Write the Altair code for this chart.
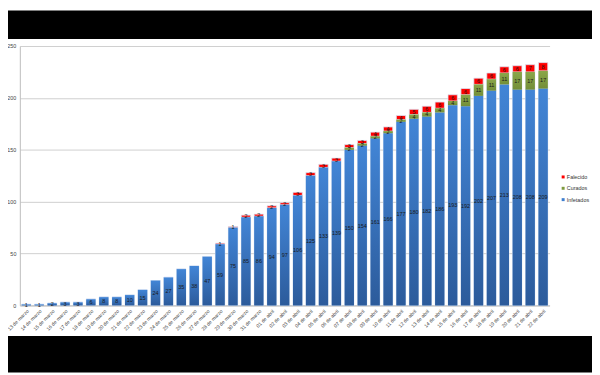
import altair as alt
import pandas as pd

fechas = [f"{d} de marzo" for d in range(13, 32)] + [f"{d:02d} de abril" for d in range(1, 23)]

infetados = [1, 1, 2, 3, 3, 6, 8, 8, 10, 15, 24, 27, 35, 38, 47, 59, 75, 85, 86, 94, 97,
             106, 125, 133, 139, 150, 154, 161, 166, 177, 180, 182, 186, 193, 192, 202,
             207, 213, 208, 208, 209]
curados = [0] * 25 + [2, 2, 2, 2, 2, 4, 4, 4, 4, 11, 11, 11, 11, 17, 17, 17]
falecido = [0] * 15 + [1, 1, 2, 2, 2, 2, 3, 3, 3, 3, 3, 3, 4, 4, 4, 5, 6, 6, 6, 6, 6, 6, 6, 6, 7, 8]

series = ["Falecido", "Curados", "Infetados"]
colores = ["#FF0000", "#7E9A3F", "#3F7FCF"]
y_ticks = [0, 50, 100, 150, 200, 250]

rows = []
for i, f in enumerate(fechas):
    for s, vals, o in (("Infetados", infetados, 0), ("Curados", curados, 1), ("Falecido", falecido, 2)):
        rows.append({"fecha": f, "serie": s, "valor": vals[i], "orden": o})
df = pd.DataFrame(rows)

W, H = 537, 263

x_enc = alt.X("fecha:N", sort=fechas, title=None,
              scale=alt.Scale(paddingInner=0.28, paddingOuter=0.14),
              axis=alt.Axis(labelAngle=-45, labelFontSize=5.0, labelColor="#444444",
                            labelFont="Liberation Sans", ticks=False, domainColor="#bdbdbd",
                            labelPadding=3, labelOverlap=False))

one = pd.DataFrame({"a": [0]})
band_top = alt.Chart(one).mark_rect(color="black").encode(
    x=alt.value(-12), x2=alt.value(W + 43), y=alt.value(-36), y2=alt.value(-7)
)
band_bot = alt.Chart(one).mark_rect(color="black").encode(
    x=alt.value(-12), x2=alt.value(W + 43), y=alt.value(294), y2=alt.value(331)
)

base = alt.Chart(df).transform_stack(
    stack="valor", groupby=["fecha"], as_=["y0", "y1"], sort=[alt.SortField("orden")]
)

bars = base.mark_bar(stroke="#dce6f4", strokeWidth=0.8).encode(
    x=x_enc,
    y=alt.Y("y0:Q", title=None,
            scale=alt.Scale(domain=[0, 250], nice=False),
            axis=alt.Axis(values=y_ticks, labelFontSize=5.5, labelColor="#444444",
                          labelFont="Liberation Sans", ticks=False, domainColor="#bdbdbd",
                          gridColor="#cfcfcf", gridWidth=1, labelPadding=4)),
    y2="y1:Q",
    color=alt.Color("serie:N", scale=alt.Scale(domain=series, range=colores),
                    legend=alt.Legend(title=None, orient="none", legendX=W + 11, legendY=130,
                                      symbolType="square", symbolSize=9, labelFontSize=5.5,
                                      labelFont="Liberation Sans", labelColor="#333333",
                                      rowPadding=4.5, symbolStrokeWidth=0, labelOffset=1)),
)

blue_grad = base.transform_filter(alt.datum.serie == "Infetados").mark_bar(
    color=alt.Gradient(gradient="linear", x1=0, x2=0, y1=0, y2=1,
                       stops=[alt.GradientStop(offset=0, color="#4285D6"),
                              alt.GradientStop(offset=1, color="#2C5B9B")])
).encode(x=x_enc, y="y0:Q", y2="y1:Q")

green_grad = base.transform_filter(alt.datum.serie == "Curados").mark_bar(
    color=alt.Gradient(gradient="linear", x1=0, x2=0, y1=0, y2=1,
                       stops=[alt.GradientStop(offset=0, color="#8AA64A"),
                              alt.GradientStop(offset=1, color="#738E37")])
).encode(x=x_enc, y="y0:Q", y2="y1:Q")

labels = base.transform_filter(alt.datum.valor > 0).transform_calculate(
    mid="(datum.y0 + datum.y1) / 2"
).mark_text(fontSize=5.5, font="Liberation Sans", color="#1a1a1a").encode(
    x=x_enc, y="mid:Q", text="valor:Q"
)

chart = alt.layer(bars, blue_grad, green_grad, labels, band_top, band_bot).properties(
    width=W, height=H,
    autosize=alt.AutoSizeParams(type="none"),
    padding={"left": 12, "top": 36, "right": 592 - 12 - W, "bottom": 68},
    background="white",
).configure_view(stroke=None)

chart.save("out.html", embed_options={"renderer": "svg", "actions": False})
